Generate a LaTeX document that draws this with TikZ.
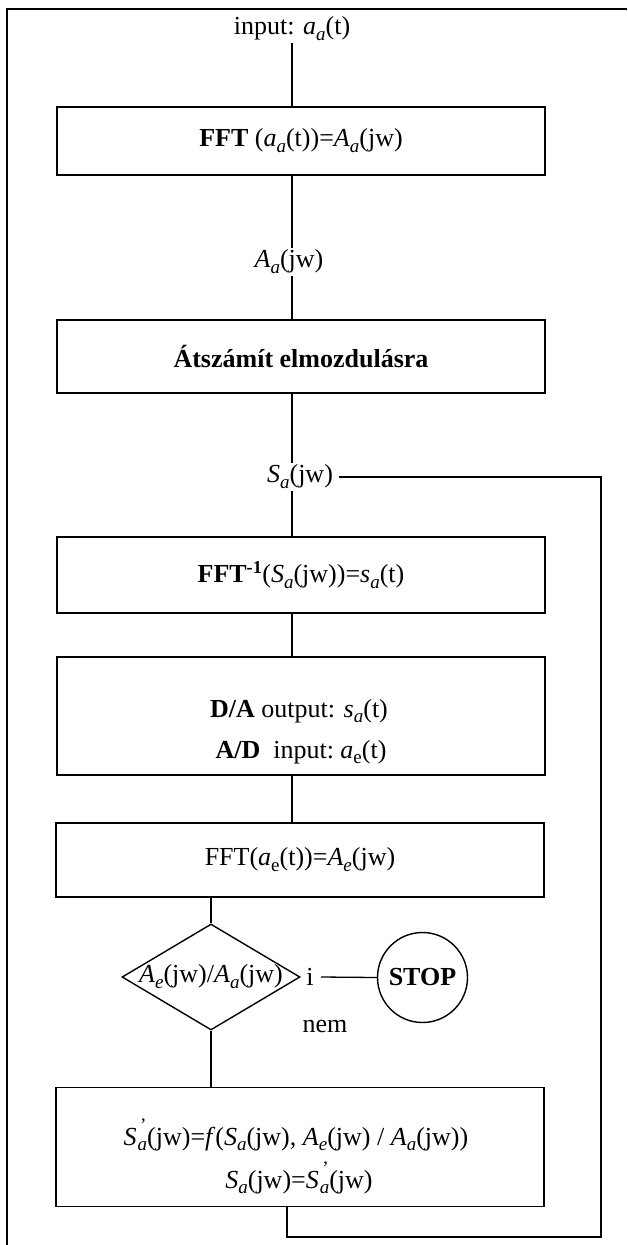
\documentclass[tikz,border=0pt]{standalone}
\usepackage{fontspec}
\setmainfont{Liberation Serif}
\usetikzlibrary{shapes.geometric}

% italic subscript and upright subscript
\newcommand\ssub[1]{\raisebox{-0.5ex}{\fontsize{19}{19}\selectfont\itshape #1}}
\newcommand\rsub[1]{\raisebox{-0.5ex}{\fontsize{19}{19}\selectfont #1}}
% S with prime above the subscript a
\newcommand\Sprime{\textit{S}\kern1pt\rlap{\kern2.5pt\raisebox{1.1ex}{\fontsize{19}{19}\selectfont'}}\ssub{a}}

\begin{document}
\begin{tikzpicture}[x=1pt,y=-1pt,
  every node/.style={font=\fontsize{26}{30}\selectfont},
  wire/.style={draw, line width=1.3pt},
  frame/.style={draw, line width=1.8pt},
  procbox/.style={draw, line width=1.4pt, minimum width=488pt, inner sep=0pt},
  label/.style={inner sep=2pt},
  boxline/.style={anchor=base, inner sep=0pt},
  decision/.style={draw, shape=diamond, line width=1.4pt, minimum width=178pt,
                   minimum height=106pt, inner sep=0pt},
  stopnode/.style={draw, circle, line width=1.4pt, minimum size=90pt, inner sep=0pt}]

\useasboundingbox (0,0) rectangle (627,1245);

% page frame (top and left edges)
\coordinate (fA) at (627,9);
\coordinate (fB) at (7,9);
\coordinate (fC) at (7,1245);
\draw[frame] (fA) -- (fB) -- (fC);

% labels on the main line
\node[label] (in) at (292,29) {input: \textit{a}\ssub{a}(t)};
\node[label] (Aa) at (289,262) {\textit{A}\ssub{a}(jw)};
\node[label] (Sa) at (300,477) {\textit{S}\ssub{a}(jw)};
\coordinate (col) at (292,0);

% process boxes
\node[procbox, minimum height=68pt] (fft) at (301,141)
  {\textbf{FFT} (\textit{a}\ssub{a}(t))=\textit{A}\ssub{a}(jw)};
\node[procbox, minimum height=73pt] (conv) at (301,356.5)
  {\textbf{Átszámít elmozdulásra}};
\node[procbox, minimum height=76pt] (ifft) at (301,575)
  {\textbf{FFT\textsuperscript{-1}}(\textit{S}\ssub{a}(jw))=\textit{s}\ssub{a}(t)};
\node[procbox, minimum height=118pt] (io) at (301,716) {};
\node[boxline] (io1) at (299,717) {\textbf{D/A} output: \textit{s}\ssub{a}(t)};
\node[boxline] (io2) at (301,758) {\textbf{A/D}\ \ input:\ \textit{a}\rsub{e}(t)};
\node[procbox, minimum height=74pt] (ffte) at (300,860)
  {FFT(\textit{a}\rsub{e}(t))=\textit{A}\ssub{e}(jw)};
\node[procbox, minimum height=119pt] (upd) at (300,1147) {};
\node[boxline] (upd1) at (296,1145)
  {\Sprime(jw)=\textit{f}(\textit{S}\ssub{a}(jw), \textit{A}\ssub{e}(jw) / \textit{A}\ssub{a}(jw))};
\node[boxline] (upd2) at (299,1188) {\textit{S}\ssub{a}(jw)=\Sprime(jw)};

% decision and stop
\node[decision] (dec) at (211,977) {};
\node[inner sep=0pt] (ratio) at (dec.center) {\textit{A}\ssub{e}(jw)/\textit{A}\ssub{a}(jw)};
\node[label, inner sep=0pt] (yes) at (310,977) {i};
\node[stopnode] (stop) at (422.5,977.5) {\textbf{STOP}};
\node[label] (no) at (325,1026) {nem};

% main line
\draw[wire] (in.south -| col) -- (col |- fft.north);
\draw[wire] (fft.south -| col) -- (col |- Aa.north);
\draw[wire] (col |- Aa.south) -- (col |- conv.north);
\draw[wire] (conv.south -| col) -- (col |- Sa.north);
\draw[wire] (col |- Sa.south) -- (col |- ifft.north);
\draw[wire] (ifft.south -| col) -- (col |- io.north);
\draw[wire] (io.south -| col) -- (col |- ffte.north);
\draw[wire] (ffte.south -| dec) -- (dec.north);
\draw[wire] (dec.south) -- (dec.south |- upd.north);
\draw[wire] ([xshift=7pt]yes.east) -- (stop.west);

% feedback loop back to S_a(jw)
\coordinate (lp1) at (287,1237);
\coordinate (lp2) at (601,1237);
\draw[wire] (upd.south -| lp1) -- (lp1) -- (lp2) -- (lp2 |- Sa) -- ([xshift=4pt]Sa.east);
\end{tikzpicture}
\end{document}
